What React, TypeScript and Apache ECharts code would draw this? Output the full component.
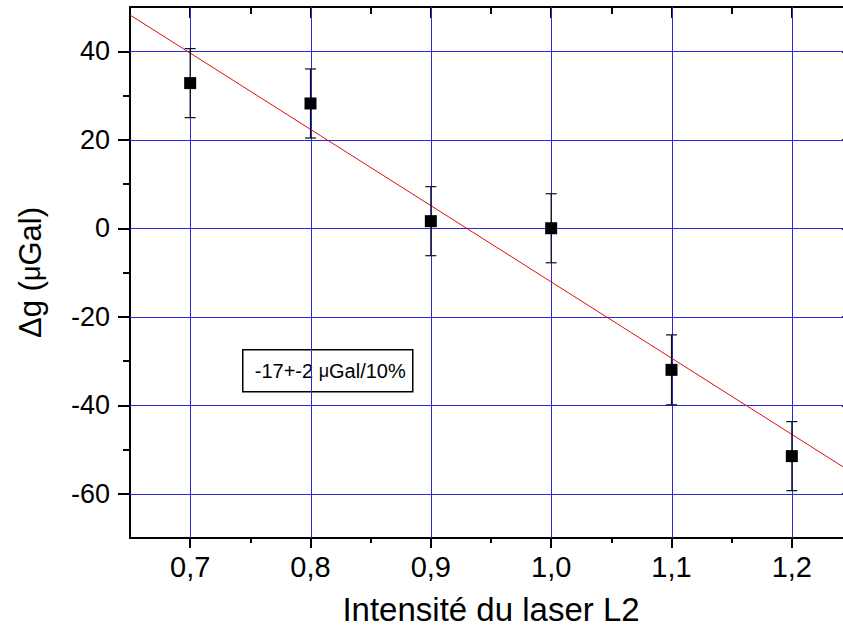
import React, { useEffect, useRef } from "react";
import * as echarts from "echarts";

// Data
const X_VALUES = [0.7, 0.8, 0.9, 1.0, 1.1, 1.2];
const DG_VALUES = [32.8, 28.2, 1.6, 0.0, -32.0, -51.5];
const DG_ERRORS = [7.8, 7.8, 7.8, 7.8, 7.9, 7.8];
const FIT_X = [0.65, 1.25];
const FIT_Y = [48.2, -55.2];

// Axis ticks
const X_MAJOR = [0.7, 0.8, 0.9, 1.0, 1.1, 1.2];
const X_MINOR = [0.75, 0.85, 0.95, 1.05, 1.15];
const Y_MAJOR = [-60, -40, -20, 0, 20, 40];
const Y_MINOR = [-50, -30, -10, 10, 30];

const X_MIN = 0.65;
const X_MAX = 1.25;
const Y_MIN = -70;
const Y_MAX = 50;

const ANNOTATION = "-17+-2 {mu|μ}Gal/10%";
const X_TITLE = "Intensité du laser L2";
const Y_TITLE = "Δg ({mu|μ}Gal)";

const FONT = "'Liberation Sans', Arial, sans-serif";
const GRID_COLOR = "#2a2ad8";

export default function App() {
  const ref = useRef<HTMLDivElement>(null);

  useEffect(() => {
    document.body.style.margin = "0";
    if (!ref.current) return;
    const chart = echarts.init(ref.current, null, { renderer: "svg" });

    const axisLine = { show: true, onZero: false, lineStyle: { color: "#000", width: 2 } };
    const noLine = { show: false, onZero: false };
    const noSplit = { show: false };

    const xBase = { type: "value", min: X_MIN, max: X_MAX, splitNumber: 6, splitLine: noSplit, minorSplitLine: noSplit };
    const yBase = { type: "value", min: Y_MIN, max: Y_MAX, splitNumber: 6, splitLine: noSplit, minorSplitLine: noSplit };

    // grid lines: one entry per major tick, vertical ones then horizontal ones
    const gridData: any[] = [
      ...X_MAJOR.map((x) => [0, x]),
      ...Y_MAJOR.map((y) => [1, y]),
    ];

    const snap = (p: number) => Math.round(p) + 0.5;

    const option: any = {
      animation: false,
      backgroundColor: "#fff",
      grid: { left: 130, top: 7, width: 722, bottom: 98, containLabel: false, outerBoundsMode: "none" },
      xAxis: [
        {
          ...xBase,
          position: "bottom",
          axisLine,
          axisTick: { show: true, customValues: X_MAJOR, length: 10, lineStyle: { color: "#000", width: 2 } },
          axisLabel: {
            show: true,
            customValues: X_MAJOR,
            margin: 14,
            fontSize: 29,
            fontFamily: FONT,
            color: "#000",
            formatter: (v: number) => v.toFixed(1).replace(".", ","),
          },
          name: X_TITLE,
          nameLocation: "middle",
          nameGap: 55,
          nameTextStyle: { fontSize: 33, fontFamily: FONT, color: "#000" },
        },
        {
          ...xBase,
          position: "bottom",
          axisLine: noLine,
          axisTick: { show: true, customValues: X_MINOR, length: 5, lineStyle: { color: "#000", width: 2 } },
          axisLabel: { show: false },
        },
        {
          ...xBase,
          position: "top",
          axisLine,
          axisTick: { show: true, inside: true, customValues: X_MAJOR, length: 11, lineStyle: { color: "#000", width: 2 } },
          axisLabel: { show: false },
        },
        {
          ...xBase,
          position: "top",
          axisLine: noLine,
          axisTick: { show: true, inside: true, customValues: X_MINOR, length: 7, lineStyle: { color: "#000", width: 2 } },
          axisLabel: { show: false },
        },
      ],
      yAxis: [
        {
          ...yBase,
          position: "left",
          axisLine,
          axisTick: { show: true, customValues: Y_MAJOR, length: 12, lineStyle: { color: "#000", width: 2 } },
          axisLabel: {
            show: true,
            customValues: Y_MAJOR,
            margin: 20,
            fontSize: 27,
            fontFamily: FONT,
            color: "#000",
          },
          name: Y_TITLE,
          nameLocation: "middle",
          nameGap: 84,
          nameRotate: 90,
          nameTextStyle: {
            fontSize: 31,
            fontFamily: FONT,
            color: "#000",
            rich: { mu: { fontSize: 27, fontFamily: FONT, color: "#000" } },
          },
        },
        {
          ...yBase,
          position: "left",
          axisLine: noLine,
          axisTick: { show: true, customValues: Y_MINOR, length: 7, lineStyle: { color: "#000", width: 2 } },
          axisLabel: { show: false },
        },
        {
          ...yBase,
          position: "right",
          axisLine,
          axisTick: { show: true, inside: true, customValues: Y_MAJOR, length: 10, lineStyle: { color: "#000", width: 2 } },
          axisLabel: { show: false },
        },
        {
          ...yBase,
          position: "right",
          axisLine: noLine,
          axisTick: { show: true, inside: true, customValues: Y_MINOR, length: 6, lineStyle: { color: "#000", width: 2 } },
          axisLabel: { show: false },
        },
      ],
      series: [
        {
          type: "custom",
          xAxisIndex: 0,
          yAxisIndex: 0,
          silent: true,
          clip: true,
          data: gridData,
          renderItem: (params: any, api: any) => {
            const kind = api.value(0);
            const v = api.value(1);
            let shape;
            if (kind === 0) {
              const a = api.coord([v, Y_MIN]);
              const b = api.coord([v, Y_MAX]);
              const x = snap(a[0]);
              shape = { x1: x, y1: a[1], x2: x, y2: b[1] };
            } else {
              const a = api.coord([X_MIN, v]);
              const b = api.coord([X_MAX, v]);
              const y = snap(a[1]);
              shape = { x1: a[0], y1: y, x2: b[0], y2: y };
            }
            return { type: "line", shape, style: { stroke: GRID_COLOR, lineWidth: 1 } };
          },
          encode: { x: -1, y: -1 },
          z: 1,
        },
        {
          type: "line",
          xAxisIndex: 0,
          yAxisIndex: 0,
          data: FIT_X.map((x, i) => [x, FIT_Y[i]]),
          symbol: "none",
          lineStyle: { color: "#e01010", width: 1 },
          z: 3,
        },
        {
          type: "custom",
          xAxisIndex: 0,
          yAxisIndex: 0,
          data: X_VALUES.map((x, i) => [x, DG_VALUES[i] - DG_ERRORS[i], DG_VALUES[i] + DG_ERRORS[i]]),
          renderItem: (params: any, api: any) => {
            const x = api.value(0);
            const lo = api.coord([x, api.value(1)]);
            const hi = api.coord([x, api.value(2)]);
            const half = 5.5;
            const style = { stroke: "#111", lineWidth: 1.2 };
            return {
              type: "group",
              children: [
                { type: "line", shape: { x1: lo[0], y1: lo[1], x2: hi[0], y2: hi[1] }, style },
                { type: "line", shape: { x1: lo[0] - half, y1: lo[1], x2: lo[0] + half, y2: lo[1] }, style },
                { type: "line", shape: { x1: hi[0] - half, y1: hi[1], x2: hi[0] + half, y2: hi[1] }, style },
              ],
            };
          },
          z: 4,
        },
        {
          type: "scatter",
          xAxisIndex: 0,
          yAxisIndex: 0,
          data: X_VALUES.map((x, i) => [x, DG_VALUES[i]]),
          symbol: "rect",
          symbolSize: 12,
          itemStyle: { color: "#000", opacity: 1 },
          z: 5,
        },
      ],
      graphic: [
        {
          type: "group",
          left: 242,
          top: 349,
          z: 10,
          children: [
            {
              type: "rect",
              shape: { x: 0, y: 0, width: 170, height: 42 },
              style: { fill: "#fff", stroke: "#000", lineWidth: 1.5 },
            },
            {
              type: "text",
              x: 12,
              y: 21,
              style: {
                text: ANNOTATION,
                fontSize: 20,
                fontFamily: FONT,
                fill: "#000",
                verticalAlign: "middle",
                align: "left",
                rich: { mu: { fontSize: 18, fontFamily: FONT, fill: "#000" } },
              },
            },
          ],
        },
      ],
    };

    chart.setOption(option);
    return () => chart.dispose();
  }, []);

  return <div ref={ref} style={{ width: 843, height: 636 }} />;
}
